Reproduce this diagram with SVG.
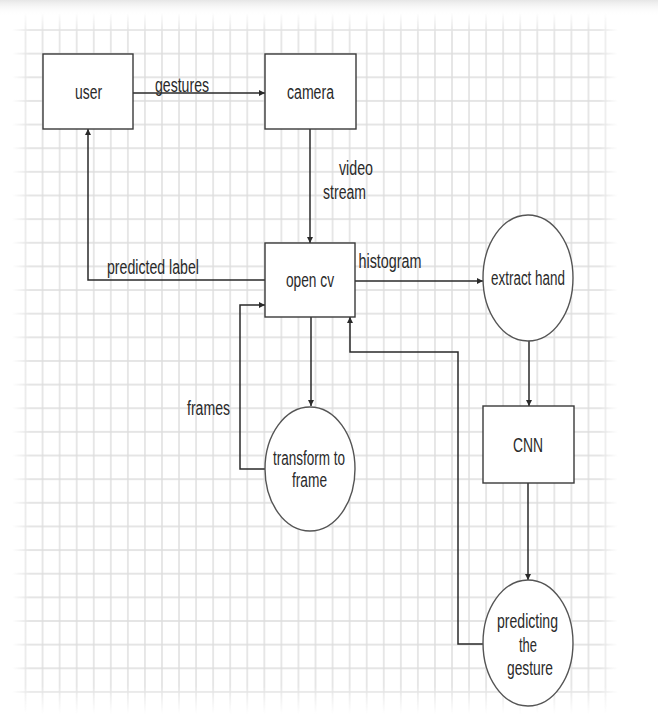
<svg xmlns="http://www.w3.org/2000/svg" width="658" height="725" viewBox="0 0 658 725">
  <defs>
    <style>
      .box { fill: #ffffff; stroke: #3a3a3a; stroke-width: 1.4; }
      .ell { fill: #ffffff; stroke: #555555; stroke-width: 1.4; }
      .edge { fill: none; stroke: #2a2a2a; stroke-width: 1.5; }
      .lbl { font-family: "Liberation Sans", Arial, sans-serif; font-size: 20px; fill: #2a2a2a; text-anchor: middle; }
    </style>
    <marker id="arr" viewBox="0 0 10 10" refX="10" refY="5" markerWidth="6" markerHeight="6" markerUnits="userSpaceOnUse" orient="auto">
      <path d="M0 0 L10 5 L0 10 Z" fill="#2a2a2a"/>
    </marker>
    <pattern id="grid" patternUnits="userSpaceOnUse" x="16.97" y="18.18" width="17.06" height="23.64">
      <path d="M8.53 0 V23.64 M0 11.82 H17.06" stroke="#dddddd" stroke-width="1.4" fill="none"/>
    </pattern>
    <linearGradient id="gx" x1="0" y1="0" x2="1" y2="0">
      <stop offset="0" stop-color="#000"/>
      <stop offset="0.03" stop-color="#fff"/>
      <stop offset="0.97" stop-color="#fff"/>
      <stop offset="1" stop-color="#000"/>
    </linearGradient>
    <linearGradient id="gy" x1="0" y1="0" x2="0" y2="1">
      <stop offset="0" stop-color="#000"/>
      <stop offset="0.03" stop-color="#fff"/>
      <stop offset="0.96" stop-color="#fff"/>
      <stop offset="1" stop-color="#000"/>
    </linearGradient>
    <mask id="mx" maskUnits="userSpaceOnUse" x="0" y="0" width="658" height="725">
      <rect x="12" y="0" width="606" height="725" fill="url(#gx)"/>
    </mask>
    <mask id="my" maskUnits="userSpaceOnUse" x="0" y="0" width="658" height="725">
      <rect x="0" y="12" width="658" height="702" fill="url(#gy)"/>
    </mask>
    <linearGradient id="top" x1="0" y1="0" x2="0" y2="1">
      <stop offset="0" stop-color="#e6e6e6"/>
      <stop offset="1" stop-color="#ffffff" stop-opacity="0"/>
    </linearGradient>
  </defs>

  <rect width="658" height="725" fill="#ffffff"/>
  <g id="grid-bg" mask="url(#mx)">
    <rect x="0" y="0" width="658" height="725" fill="url(#grid)" mask="url(#my)"/>
  </g>
  <rect x="0" y="0" width="658" height="16" fill="url(#top)"/>

  <g id="connectors">
    <path class="edge" d="M133 93 H265" marker-end="url(#arr)"/>
    <path class="edge" d="M310 129 V243" marker-end="url(#arr)"/>
    <path class="edge" d="M265 280 H88 V129" marker-end="url(#arr)"/>
    <path class="edge" d="M355 281 H483" marker-end="url(#arr)"/>
    <path class="edge" d="M529 341 V406" marker-end="url(#arr)"/>
    <path class="edge" d="M528 483 V580" marker-end="url(#arr)"/>
    <path class="edge" d="M483 644 H458 V352 H350 V317" marker-end="url(#arr)"/>
    <path class="edge" d="M311 317 V406" marker-end="url(#arr)"/>
    <path class="edge" d="M265 469 H240 V305 H265" marker-end="url(#arr)"/>
    <text class="lbl" x="182" y="92" textLength="54" lengthAdjust="spacingAndGlyphs">gestures</text>
    <text class="lbl" x="356" y="175" textLength="34" lengthAdjust="spacingAndGlyphs">video</text>
    <text class="lbl" x="344.5" y="199" textLength="43" lengthAdjust="spacingAndGlyphs">stream</text>
    <text class="lbl" x="153" y="274" textLength="92" lengthAdjust="spacingAndGlyphs">predicted label</text>
    <text class="lbl" x="390" y="268" textLength="63" lengthAdjust="spacingAndGlyphs">histogram</text>
    <text class="lbl" x="208.5" y="415" textLength="43" lengthAdjust="spacingAndGlyphs">frames</text>
  </g>

  <g id="user">
    <rect class="box" x="43" y="54" width="90" height="75"/>
    <text class="lbl" x="88.5" y="99" textLength="27" lengthAdjust="spacingAndGlyphs">user</text>
  </g>
  <g id="camera">
    <rect class="box" x="265" y="54" width="91" height="75"/>
    <text class="lbl" x="310.5" y="99" textLength="47" lengthAdjust="spacingAndGlyphs">camera</text>
  </g>
  <g id="opencv">
    <rect class="box" x="265" y="243" width="90" height="74"/>
    <text class="lbl" x="310" y="287" textLength="48" lengthAdjust="spacingAndGlyphs">open cv</text>
  </g>
  <g id="extract-hand">
    <ellipse class="ell" cx="528" cy="278" rx="45" ry="63"/>
    <text class="lbl" x="528" y="285" textLength="74" lengthAdjust="spacingAndGlyphs">extract hand</text>
  </g>
  <g id="cnn">
    <rect class="box" x="483" y="406" width="91" height="77"/>
    <text class="lbl" x="528" y="452" textLength="30" lengthAdjust="spacingAndGlyphs">CNN</text>
  </g>
  <g id="transform">
    <ellipse class="ell" cx="310" cy="469" rx="45" ry="62"/>
    <text class="lbl" x="309" y="465" textLength="72" lengthAdjust="spacingAndGlyphs">transform to</text>
    <text class="lbl" x="309.5" y="487" textLength="35" lengthAdjust="spacingAndGlyphs">frame</text>
  </g>
  <g id="predicting">
    <ellipse class="ell" cx="528" cy="643" rx="45" ry="63"/>
    <text class="lbl" x="527.5" y="628" textLength="61" lengthAdjust="spacingAndGlyphs">predicting</text>
    <text class="lbl" x="528" y="652" textLength="18" lengthAdjust="spacingAndGlyphs">the</text>
    <text class="lbl" x="530" y="675" textLength="46" lengthAdjust="spacingAndGlyphs">gesture</text>
  </g>
</svg>
